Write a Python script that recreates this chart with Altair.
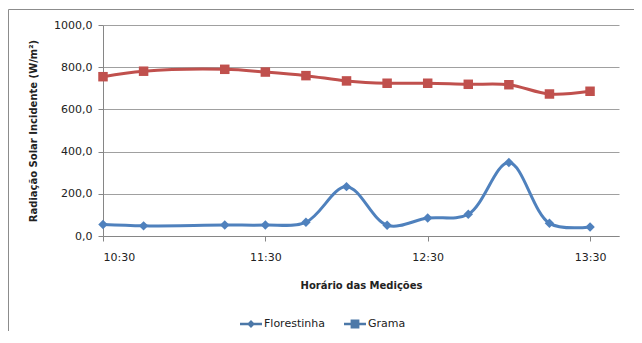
import altair as alt
import pandas as pd

# ---- data ----
times = ["10:30", "10:45", "11:15", "11:30", "11:45", "12:00",
         "12:15", "12:30", "12:45", "13:00", "13:15", "13:30"]
florestinha = [54, 48, 52, 52, 65, 234, 51, 85, 103, 348, 60, 43]
grama = [755, 781, 790, 777, 760, 735, 724, 724, 719, 717, 673, 686]
series = ["Florestinha", "Grama"]
colors = ["#4F81BD", "#C0504D"]
shapes = ["diamond", "square"]
legend_shapes = ["M-1,-0.11H1V0.11H-1ZM0,-0.36L0.36,0L0,0.36L-0.36,0Z",
                 "M-1,-0.11H1V0.11H-1ZM-0.4,-0.4H0.4V0.4H-0.4Z"]
legend_x = [137, 241]
y_ticks = [0, 200, 400, 600, 800, 1000]
x_ticks = ["10:30", "11:30", "12:30", "13:30"]


def minutes(t):
    h, m = t.split(":")
    return int(h) * 60 + int(m)


rows = []
for t, f, g in zip(times, florestinha, grama):
    rows.append({"t": minutes(t), "serie": series[0], "v": f})
    rows.append({"t": minutes(t), "serie": series[1], "v": g})
df = pd.DataFrame(rows)

FONT = "DejaVu Sans"
GRID = "#a0a0a0"
AX = "#868686"

x_enc = alt.X(
    "t:Q",
    scale=alt.Scale(domain=[630, 820.7], nice=False, zero=False),
    axis=alt.Axis(
        values=[minutes(t) for t in x_ticks],
        labelExpr="floor(datum.value/60) + ':' + (datum.value % 60 < 10 ? '0' : '') + (datum.value % 60)",
        grid=False,
        domainColor=AX, tickColor=AX, tickSize=5,
        labelPadding=10, labelFont=FONT, labelFontSize=11, labelColor="#222",
        title="Horário das Medições", titleFont=FONT, titleFontSize=10,
        titleFontWeight="bold", titleColor="#222",
        titleX=258, titleY=49, titleAlign="center", titleBaseline="middle",
    ),
)
y_enc = alt.Y(
    "v:Q",
    scale=alt.Scale(domain=[0, 1000], nice=False),
    axis=alt.Axis(
        values=y_ticks,
        labelExpr="replace(format(datum.value, '.1f'), '.', ',')",
        grid=True, gridColor=GRID, gridWidth=1,
        domainColor=AX, tickColor=AX, tickSize=5,
        labelPadding=6, labelFont=FONT, labelFontSize=11, labelColor="#222",
        title="Radiação Solar Incidente (W/m²)", titleFont=FONT, titleFontSize=10,
        titleFontWeight="bold", titleColor="#222",
        titleX=-70, titleY=105.5, titleAngle=-90,
        titleAlign="center", titleBaseline="middle",
    ),
)
color_scale = alt.Scale(domain=series, range=colors)

lines = alt.Chart(df).mark_line(interpolate="catmull-rom", strokeWidth=3).encode(
    x=x_enc, y=y_enc,
    color=alt.Color("serie:N", scale=color_scale, legend=None),
)

point_layers = []
for s, shp in zip(series, shapes):
    point_layers.append(
        alt.Chart(df).transform_filter(alt.datum.serie == s)
        .mark_point(filled=True, size=90, opacity=1, shape=shp)
        .encode(x=x_enc, y=y_enc,
                color=alt.Color("serie:N", scale=color_scale, legend=None))
    )

legend_layers = []
for s, c, path, lx in zip(series, colors, legend_shapes, legend_x):
    leg = alt.Legend(
        orient="none", legendX=lx, legendY=288, direction="horizontal",
        title=None, symbolSize=484, symbolStrokeWidth=0, symbolOpacity=1,
        symbolFillColor=c,
        labelFont=FONT, labelFontSize=11, labelColor="#222", labelOffset=2,
    )
    legend_layers.append(
        alt.Chart(df).transform_filter(alt.datum.serie == s)
        .mark_point(filled=True, size=484, opacity=0)
        .encode(x=x_enc, y=y_enc,
                shape=alt.Shape("serie:N", scale=alt.Scale(domain=[s], range=[path]), legend=leg))
    )

frame = alt.Chart(alt.Data(values=[{}])).mark_rect(
    fill=None, stroke="#8c8c8c", strokeWidth=1
).encode(
    x=alt.value(-94.5), x2=alt.value(700),
    y=alt.value(-15.5), y2=alt.value(500),
)

chart = alt.layer(frame, lines, *point_layers, *legend_layers).resolve_scale(
    shape="independent"
).properties(
    width=516, height=211,
    padding={"left": 95, "top": 17, "right": 15, "bottom": 95},
    autosize=alt.AutoSizeParams(type="none"),
    background="white",
).configure_view(stroke=None)

chart.save("out.html", embed_options={"renderer": "svg", "actions": False})
